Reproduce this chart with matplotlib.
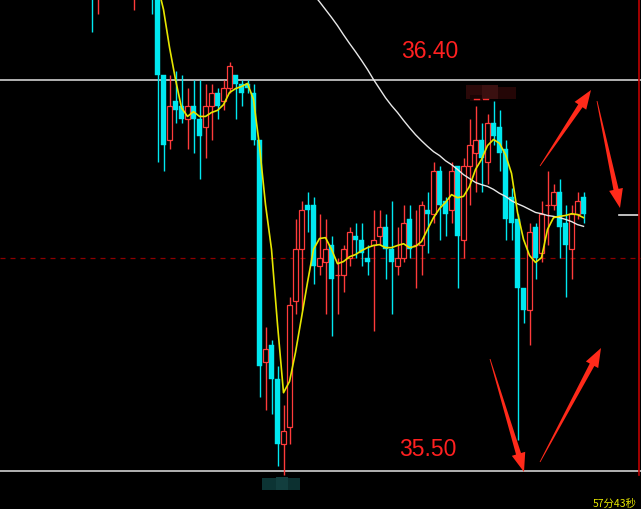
import matplotlib
matplotlib.use('Agg')
import matplotlib.pyplot as plt
from matplotlib.patches import Polygon, Rectangle
import numpy as np

# 5-min candles, prices
opens = [36.68, 36.60, 36.66, 36.70, 36.66, 36.63, 36.66, 36.61, 36.66, 36.64,
         36.66, 36.60, 36.41, 36.26, 36.35, 36.34, 36.31, 36.34, 36.31, 36.29,
         36.34, 36.37, 36.35, 36.38, 36.41, 36.39, 36.39, 36.37, 36.26, 35.75,
         35.79, 35.71, 35.56, 35.60, 35.89, 36.01, 36.11, 36.11, 35.97, 35.98,
         36.02, 35.95, 35.95, 35.99, 36.04, 36.03, 35.99, 36.02, 36.04, 36.06,
         36.01, 35.97, 35.99, 36.08, 36.02, 36.02, 36.10, 36.09, 36.19, 36.12,
         36.10, 36.20, 36.03, 36.20, 36.23, 36.26, 36.21, 36.30, 36.29, 36.24,
         36.13, 36.08, 35.92, 35.87, 36.06, 36.00, 36.11, 36.11, 36.14, 36.07,
         36.01, 36.09, 36.13]
highs = [36.71, 36.69, 36.72, 36.74, 36.70, 36.68, 36.69, 36.68, 36.70, 36.68,
         36.68, 36.61, 36.41, 36.41, 36.42, 36.41, 36.38, 36.40, 36.40, 36.39,
         36.39, 36.38, 36.40, 36.44, 36.41, 36.40, 36.40, 36.39, 36.26, 35.83,
         35.80, 35.74, 35.65, 35.90, 36.08, 36.12, 36.14, 36.13, 36.09, 36.08,
         36.04, 35.99, 36.02, 36.06, 36.07, 36.07, 36.02, 36.10, 36.10, 36.09,
         36.12, 36.06, 36.11, 36.11, 36.10, 36.12, 36.14, 36.21, 36.20, 36.13,
         36.21, 36.20, 36.22, 36.31, 36.34, 36.30, 36.32, 36.35, 36.33, 36.26,
         36.15, 36.09, 35.92, 36.07, 36.07, 36.12, 36.19, 36.16, 36.17, 36.11,
         36.11, 36.14, 36.14]
lows = [36.51, 36.55, 36.62, 36.64, 36.61, 36.60, 36.61, 36.56, 36.62, 36.61,
        36.55, 36.21, 36.19, 36.24, 36.30, 36.30, 36.24, 36.23, 36.17, 36.22,
        36.26, 36.31, 36.33, 36.37, 36.31, 36.34, 36.37, 36.25, 35.67, 35.64,
        35.63, 35.51, 35.49, 35.56, 35.86, 35.87, 36.05, 35.93, 35.95, 35.86,
        35.81, 35.86, 35.91, 35.97, 35.99, 35.97, 35.95, 35.82, 36.02, 35.94,
        35.86, 35.95, 35.98, 35.99, 35.92, 35.95, 36.00, 36.07, 36.03, 36.04,
        36.07, 35.92, 35.99, 36.11, 36.14, 36.14, 36.16, 36.25, 36.19, 36.03,
        36.03, 35.57, 35.84, 35.79, 35.94, 35.98, 36.02, 36.10, 35.99, 35.90,
        35.94, 36.08, 36.07]
closes = [36.60, 36.66, 36.70, 36.66, 36.63, 36.66, 36.62, 36.66, 36.64, 36.66,
          36.60, 36.41, 36.25, 36.34, 36.33, 36.31, 36.34, 36.31, 36.27, 36.34,
          36.37, 36.34, 36.38, 36.43, 36.39, 36.37, 36.38, 36.26, 35.74, 35.78,
          35.71, 35.56, 35.59, 35.88, 36.01, 36.10, 36.10, 35.97, 35.99, 36.01,
          35.94, 35.95, 36.01, 36.05, 36.03, 36.00, 35.98, 36.03, 36.06, 36.01,
          35.98, 35.99, 36.07, 36.01, 36.02, 36.11, 36.09, 36.19, 36.11, 36.09,
          36.19, 36.04, 36.20, 36.25, 36.26, 36.22, 36.30, 36.27, 36.23, 36.08,
          36.07, 35.92, 35.87, 36.05, 35.99, 36.09, 36.11, 36.14, 36.06, 36.02,
          36.09, 36.12, 36.09]

nan = np.nan
# yellow short average and white long average
ma_fast = [nan] * 11 + [
    36.618, 36.561, 36.474, 36.400, 36.335, 36.315, 36.326, 36.315, 36.315,
    36.324, 36.329, 36.342, 36.370, 36.379, 36.384, 36.391, 36.354, 36.246,
    36.112, 36.009, 35.836, 35.679, 35.705, 35.772, 35.852, 35.933, 36.009,
    36.034, 36.036, 36.009, 35.976, 35.981, 35.992, 35.997, 36.006, 36.013,
    36.018, 36.020, 36.013, 36.013, 36.018, 36.022, 36.013, 36.016, 36.027,
    36.055, 36.082, 36.103, 36.117, 36.135, 36.128, 36.131, 36.154, 36.193,
    36.216, 36.248, 36.262, 36.253, 36.227, 36.184, 36.094, 36.032, 35.995,
    35.979, 35.990, 36.055, 36.082, 36.085, 36.087, 36.091, 36.089, 36.082]
ma_slow = [nan] * 36 + [
    36.612, 36.596, 36.579, 36.561, 36.543, 36.524, 36.503, 36.483, 36.464,
    36.444, 36.423, 36.400, 36.379, 36.358, 36.340, 36.324, 36.306, 36.289,
    36.273, 36.259, 36.246, 36.234, 36.225, 36.213, 36.204, 36.193, 36.181,
    36.172, 36.163, 36.158, 36.154, 36.147, 36.138, 36.131, 36.121, 36.114,
    36.108, 36.101, 36.094, 36.091, 36.087, 36.085, 36.082, 36.078, 36.073,
    36.066, 36.062]

level_hi = 36.40
level_lo = 35.50
prev_close = 35.99
last_price = 36.09

W, H = 641, 510
UP = '#ff3b3b'
DOWN = '#00e8f0'

fig = plt.figure(figsize=(W / 100, H / 100), dpi=100, facecolor='black')
ax = fig.add_axes([0, 0, 1, 1])
ax.set_facecolor('black')
ax.set_axis_off()
ax.set_xlim(-15.25, 91.58)
ax.set_ylim(35.4114, 36.5853)

o = np.array(opens); h = np.array(highs); l = np.array(lows); c = np.array(closes)
x = np.arange(len(o))
up = c >= o
dn = ~up

# wicks
ax.vlines(x[dn], l[dn], h[dn], color=DOWN, lw=1, zorder=2)
top = np.maximum(o, c); bot = np.minimum(o, c)
ax.vlines(x[up], top[up], h[up], color=UP, lw=1, zorder=2)
ax.vlines(x[up], l[up], bot[up], color=UP, lw=1, zorder=2)
# bodies
ax.bar(x[dn], (o - c)[dn], bottom=c[dn], width=0.82, color=DOWN,
       edgecolor=DOWN, lw=0.3, zorder=3)
ax.bar(x[up], (c - o)[up], bottom=o[up], width=0.7, color='black',
       edgecolor=UP, lw=0.9, zorder=3)

ax.plot(x, ma_slow, color='#e8e8e8', lw=1, zorder=4)
ax.plot(x, ma_fast, color='#e6e600', lw=1.2, zorder=4)

ax.axhline(level_hi, color='#d0d0d0', lw=1.2, zorder=1)
ax.axhline(level_lo, color='#d0d0d0', lw=1.2, zorder=1)
ax.axhline(prev_close, color='#8a0000', lw=0.9, ls=(0, (4, 4)), zorder=0)


def px(xp, yp):
    return xp / W, 1 - yp / H


ax.plot([619 / W, 638 / W], [1 - 216 / H] * 2, color='#e0e0e0', lw=1.2,
        transform=ax.transAxes)
ax.plot([639 / W, 639 / W], [1, 1 - 476 / H], color='#c00000', lw=1.2,
        transform=ax.transAxes)

ax.text(*px(401, 52), '%.2f' % level_hi, color='#ff2020', fontsize=16.5,
        family='Liberation Sans', va='center', ha='left', transform=ax.transAxes)
ax.text(*px(399, 450), '%.2f' % level_lo, color='#ff2020', fontsize=16.5,
        family='Liberation Sans', va='center', ha='left', transform=ax.transAxes)


def arrow(tail, tip, head_len=19, head_w=7, shaft_w=2.6):
    t = np.array(tail, float); p = np.array(tip, float)
    d = (p - t) / np.hypot(*(p - t))
    n = np.array([-d[1], d[0]])
    b = p - d * head_len
    pts = [t + n * 0.4, b + n * shaft_w, b + n * head_w, p,
           b - n * head_w, b - n * shaft_w, t - n * 0.4]
    pts = [px(*q) for q in pts]
    ax.add_patch(Polygon(pts, closed=True, color='#ff2a1a', lw=0,
                         transform=ax.transAxes, zorder=6))


arrow((540, 167), (591, 91))
arrow((597, 102), (620, 209))
arrow((490, 360), (524, 473))
arrow((540, 463), (601, 349))

# blurred price tags
for (x0, y0, w, hh, col) in [(466, 86, 16, 14, '#2a0808'), (482, 86, 16, 14, '#3a1010'),
                             (498, 88, 18, 12, '#240606'), (470, 96, 12, 6, '#1a0404'),
                             (262, 479, 14, 12, '#0c3434'), (276, 478, 12, 13, '#123e3e'),
                             (288, 479, 12, 12, '#0c3030')]:
    ax.add_patch(Rectangle(px(x0, y0 + hh), w / W, hh / H, color=col, lw=0,
                           transform=ax.transAxes, zorder=5))
ax.plot([474 / W, 479 / W], [1 - 100 / H] * 2, color='#ff3030', lw=1,
        transform=ax.transAxes, zorder=6)
ax.plot([483 / W, 488 / W], [1 - 100 / H] * 2, color='#ff3030', lw=1,
        transform=ax.transAxes, zorder=6)

ax.text(*px(593, 509), '57分43秒', color='#e6e600', fontsize=7.5,
        family=['Noto Sans CJK SC', 'DejaVu Sans'], va='bottom', ha='left',
        transform=ax.transAxes)

fig.savefig('out.png', dpi=100, facecolor='black')
